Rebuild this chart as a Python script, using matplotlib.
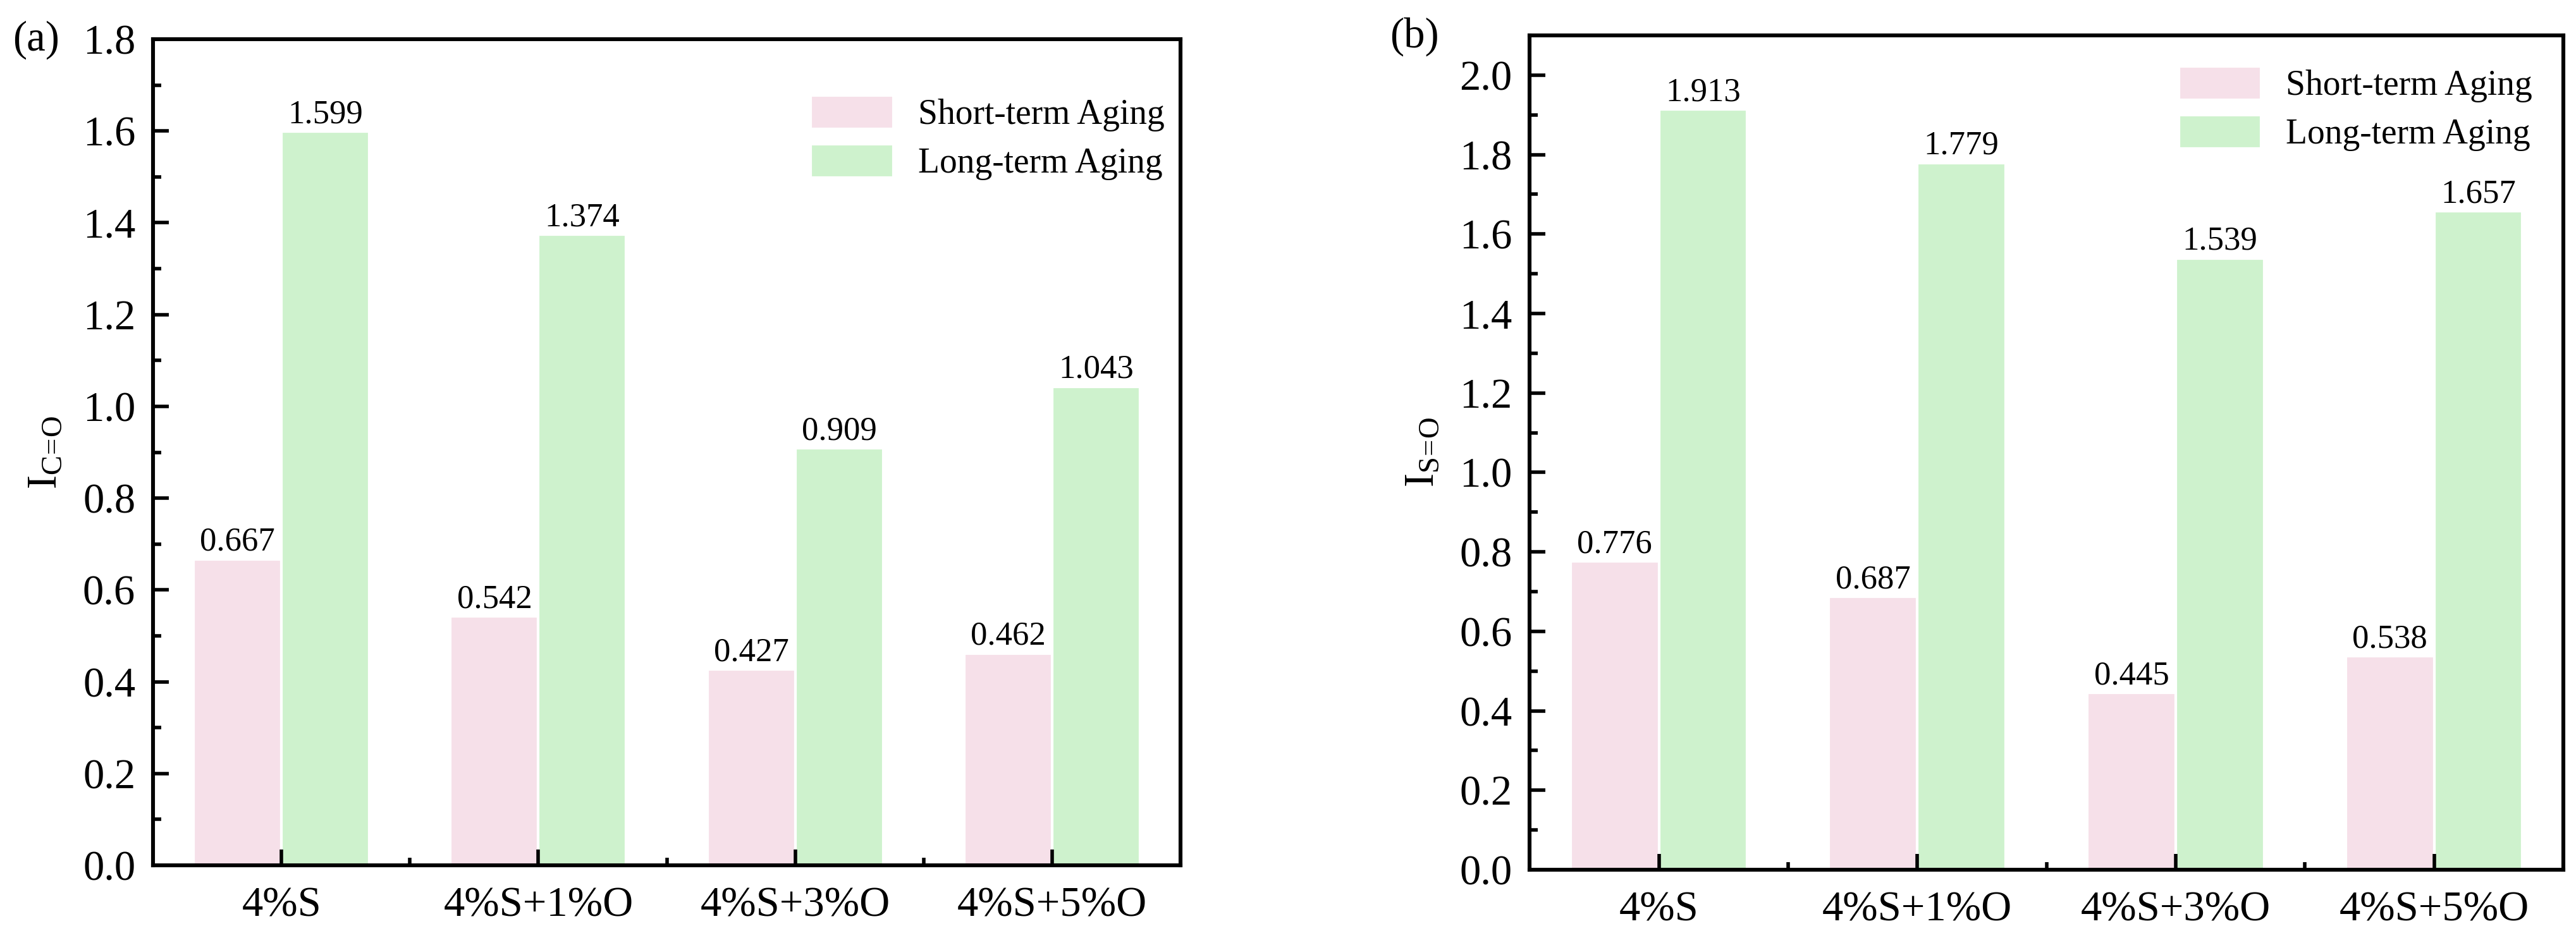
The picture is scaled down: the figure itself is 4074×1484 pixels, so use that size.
import numpy as np
import matplotlib
matplotlib.use('Agg')
import matplotlib.pyplot as plt
from matplotlib.ticker import MultipleLocator, FixedLocator

plt.rcParams['font.family'] = ['Liberation Serif', 'DejaVu Serif']
plt.rcParams['mathtext.fontset'] = 'custom'
plt.rcParams['mathtext.rm'] = 'Liberation Serif'
plt.rcParams['mathtext.it'] = 'Liberation Serif:italic'

# data
groups = ['4%S', '4%S+1%O', '4%S+3%O', '4%S+5%O']
series = ['Short-term Aging', 'Long-term Aging']
short_co = [0.667, 0.542, 0.427, 0.462]
long_co = [1.599, 1.374, 0.909, 1.043]
short_so = [0.776, 0.687, 0.445, 0.538]
long_so = [1.913, 1.779, 1.539, 1.657]

pink = '#F6E0E9'
green = '#CEF2CD'

fig = plt.figure(figsize=(20.37, 7.42), dpi=200)
ax_a = fig.add_axes([0.0594, 0.0775, 0.3989, 0.8807])
ax_b = fig.add_axes([0.5938, 0.0728, 0.4013, 0.8895])


def draw(ax, short, long, ymax, ylabel, leg_anchor):
    x = np.arange(len(groups))
    w = 0.342
    b1 = ax.bar(x - w / 2, short, w, color=pink, edgecolor='white', linewidth=1.5, label=series[0])
    b2 = ax.bar(x + w / 2, long, w, color=green, edgecolor='white', linewidth=1.5, label=series[1])
    for bars, vals in ((b1, short), (b2, long)):
        for r, v in zip(bars, vals):
            ax.annotate('%.3f' % v, (r.get_x() + r.get_width() / 2, v),
                        xytext=(0, 1), textcoords='offset points',
                        ha='center', va='bottom', fontsize=19)
    ax.set_xlim(-0.5, 3.5)
    ax.set_ylim(0, ymax)
    ax.set_xticks(x)
    ax.set_xticklabels(groups)
    ax.xaxis.set_minor_locator(FixedLocator([0.5, 1.5, 2.5]))
    ax.yaxis.set_major_locator(MultipleLocator(0.2))
    ax.yaxis.set_minor_locator(MultipleLocator(0.1))
    ax.yaxis.set_major_formatter(matplotlib.ticker.FormatStrFormatter('%.1f'))
    ax.tick_params(which='both', direction='in', width=2.0, labelsize=24)
    ax.tick_params(which='major', length=9)
    ax.tick_params(which='minor', length=4.5)
    ax.tick_params(axis='x', pad=12)
    ax.tick_params(axis='y', pad=10)
    for s in ax.spines.values():
        s.set_linewidth(2.2)
    ax.set_ylabel(ylabel, fontsize=24, labelpad=10)
    ax.legend(loc='upper left', bbox_to_anchor=leg_anchor, frameon=False, fontsize=20,
              handlelength=2.35, handleheight=1.1, handletextpad=0.7,
              labelspacing=0.35, borderpad=0, borderaxespad=0)


draw(ax_a, short_co, long_co, 1.8, r'I$_{\mathrm{C\!=\!O}}$', (0.640, 0.932))
draw(ax_b, short_so, long_so, 2.1, r'I$_{\mathrm{S\!=\!O}}$', (0.628, 0.963))

fig.text(20 / 4074, 1 - 80 / 1484, '(a)', fontsize=24, va='baseline', ha='left')
fig.text(2198 / 4074, 1 - 75 / 1484, '(b)', fontsize=24, va='baseline', ha='left')

fig.savefig('out.png', dpi=200)
